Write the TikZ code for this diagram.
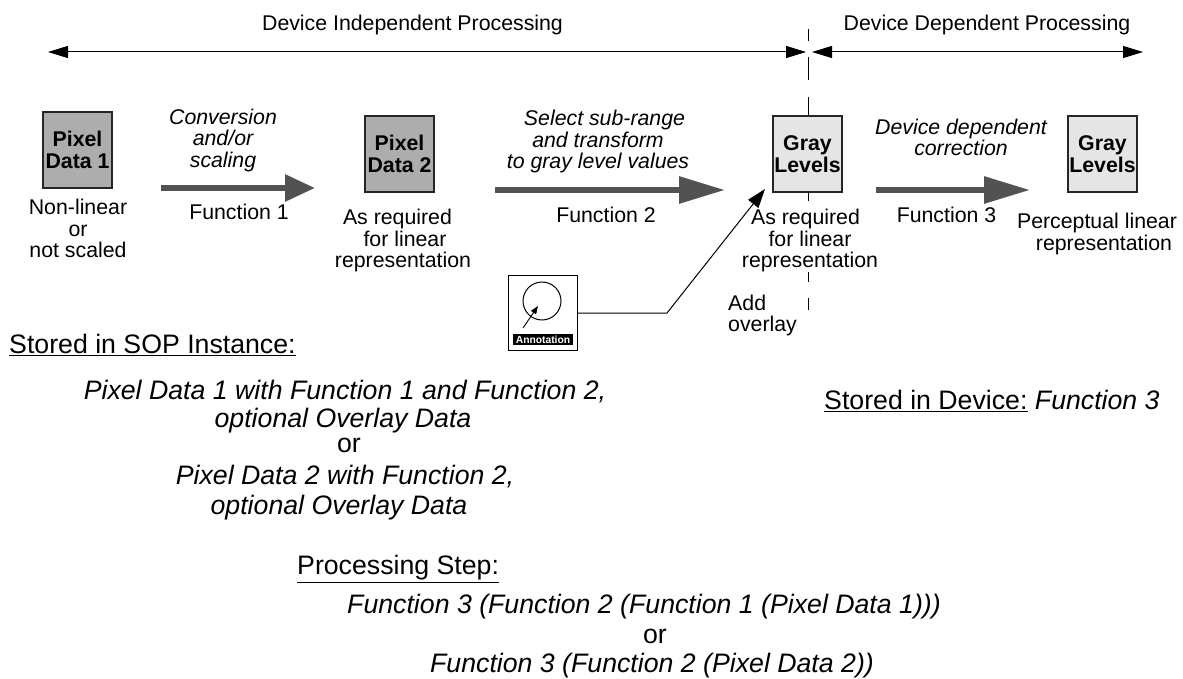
\documentclass[tikz,border=0pt]{standalone}
\usepackage{fontspec}
\setmainfont{Liberation Sans}
\usetikzlibrary{arrows.meta}
\newcommand{\fs}{\fontsize{21.3}{21.5}\selectfont}
\newcommand{\fb}{\fontsize{26.7}{28}\selectfont}
\tikzset{
  x=1pt,y=-1pt,
  txt/.style={inner sep=0pt,align=center,font=\fs},
  itxt/.style={inner sep=0pt,align=center,font=\fs\itshape},
  lefttxt/.style={inner sep=0pt,anchor=west,font=\fs},
  bigtxt/.style={inner sep=0pt,align=center,font=\fb},
  bigit/.style={inner sep=0pt,align=center,font=\fb\itshape},
  bigleft/.style={inner sep=0pt,anchor=west,font=\fb},
  databox/.style={draw=black!85,line width=1.2pt,minimum width=69pt,minimum height=76pt,inner sep=0pt,align=center,font=\fontsize{21.3}{22.5}\selectfont\bfseries},
  dark/.style={databox,fill=black!32},
  light/.style={databox,fill=black!10},
  span/.style={line width=1pt,{Triangle[length=20pt,width=12pt]}-{Triangle[length=20pt,width=12pt]}},
  flow/.style={draw=black!68,line width=6pt,-{Triangle[length=30pt,width=26pt]}},
  flowb/.style={draw=black!68,line width=6pt,-{Triangle[length=46pt,width=26pt]}},
  divider/.style={line width=1pt},
}
\begin{document}
\begin{tikzpicture}
\useasboundingbox (0,0) rectangle (1183,679);
% boxes
\node[dark] (p1) at (77.5,150) {Pixel\\Data 1};
\node[dark] (p2) at (399.5,154) {Pixel\\Data 2};
\node[light] (g1) at (807.5,154) {Gray\\Levels};
\node[light] (g2) at (1102.5,154) {Gray\\Levels};
% divider
\coordinate (d1a) at (808,29); \coordinate (d1b) at (808,41);
\coordinate (d2a) at (808,57); \coordinate (d2b) at (808,80);
\coordinate (d3a) at (808,97); \coordinate (d4b) at (808,201);
\coordinate (d5a) at (808,272); \coordinate (d5b) at (808,282);
\coordinate (d6a) at (808,298); \coordinate (d6b) at (808,310);
\draw[divider] (d1a)--(d1b) (d2a)--(d2b) (d3a)--(g1.north-|d3a) (g1.south-|d3a)--(d4b) (d5a)--(d5b) (d6a)--(d6b);
% span arrows
\coordinate (s1) at (48,52); \coordinate (s2) at (806,52);
\coordinate (s3) at (812,52); \coordinate (s4) at (1143,52);
\draw[span] (s1)--(s2);
\draw[span] (s3)--(s4);
\node[txt] (t1) at (412.5,25) {Device Independent Processing};
\node[txt] (t2) at (987,25) {Device Dependent Processing};
% flow arrows
\coordinate (f1a) at (161,188); \coordinate (f1b) at (315,188);
\coordinate (f2a) at (495,190); \coordinate (f2b) at (725,190);
\coordinate (f3a) at (876,190); \coordinate (f3b) at (1030,190);
\draw[flow] (f1a)--(f1b);
\draw[flowb] (f2a)--(f2b);
\draw[flowb] (f3a)--(f3b);
% labels
\node[itxt] (c1) at (223,140) {Conversion\\and/or\\scaling};
\node[txt] (c2) at (239,212) {Function 1};
\node[txt] (c3) at (78,228.5) {Non-linear\\or\\not scaled};
\node[txt] (c4) at (403,240.5) {As required\hspace*{11pt}\\\hspace*{4pt}for linear\\representation};
\node[itxt] (c5) at (598,141.5) {\hspace*{13pt}Select sub-range\\and transform\\to gray level values};
\node[txt] (c6) at (606,215) {Function 2};
\node[txt] (c7) at (810,240.5) {As required\hspace*{9pt}\\for linear\\representation};
\node[itxt] (c8) at (961,137.5) {Device dependent\\correction};
\node[txt] (c9) at (946.5,215) {Function 3};
\node[txt] (c10) at (1097,234) {Perceptual linear\\\hspace*{14pt}representation};
\node[lefttxt,align=left] (c11) at (728,315.5) {Add\\overlay};
% annotation
\node[draw=black,line width=1pt,minimum width=69pt,minimum height=75pt,inner sep=0pt] (an) at (542.5,312.5) {};
\node[draw=black,line width=1pt,circle,minimum size=38pt,inner sep=0pt] (circ) at (542,301) {};
\node[fill=black,text=white,inner sep=0pt,minimum width=60pt,minimum height=11pt,font=\fontsize{10.3}{10}\selectfont\bfseries] (lab) at (543,339.5) {Annotation};
\coordinate (sa) at (523,328); \coordinate (sb) at (538,306);
\draw[line width=.9pt,-{Triangle[length=8pt,width=6pt]}] (sa)--(sb);
\coordinate (bend) at (667,313); \coordinate (tip) at (765,189);
\draw[line width=1pt,-{Triangle[length=19pt,width=13pt]}] (an.east|-bend)--(bend)--(tip);
% stored
\node[bigleft] (h1) at (9,345) {\underline{Stored in SOP Instance:}};
\node[bigit,font=\fontsize{26.7}{28}\selectfont\itshape] (h2) at (345,406.5) {Pixel Data 1 with Function 1 and Function 2,\\optional Overlay Data\hspace*{4pt}};
\node[bigtxt] (h3) at (349,445) {or};
\node[bigit,font=\fontsize{26.7}{30}\selectfont\itshape] (h4) at (345,493) {Pixel Data 2 with Function 2,\\optional Overlay Data\hspace*{12pt}};
\node[bigleft] (h5) at (824,401) {\underline{Stored in Device:}\ \textit{Function 3}};
\node[bigleft] (h6) at (297,569) {\underline{Processing Step:}};
\node[bigit] (h7) at (644,607) {Function 3 (Function 2 (Function 1 (Pixel Data 1)))};
\node[bigtxt] (h8) at (655,636) {or};
\node[bigit] (h9) at (652,665.5) {Function 3 (Function 2 (Pixel Data 2))};
\end{tikzpicture}
\end{document}
